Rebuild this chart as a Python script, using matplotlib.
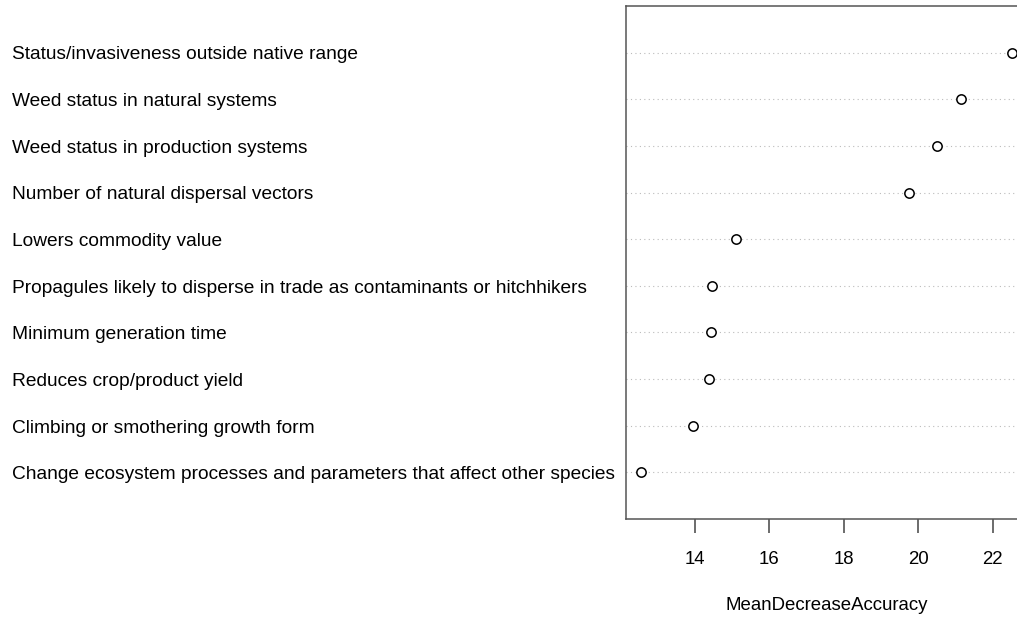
import numpy as np
import matplotlib.pyplot as plt
from matplotlib.transforms import blended_transform_factory

# variables, top to bottom
labels = [
    "Status/invasiveness outside native range",
    "Weed status in natural systems",
    "Weed status in production systems",
    "Number of natural dispersal vectors",
    "Lowers commodity value",
    "Propagules likely to disperse in trade as contaminants or hitchhikers",
    "Minimum generation time",
    "Reduces crop/product yield",
    "Climbing or smothering growth form",
    "Change ecosystem processes and parameters that affect other species",
]
mda = [22.52, 21.14, 20.50, 19.75, 15.10, 14.46, 14.43, 14.38, 13.95, 12.55]
xticks = [14, 16, 18, 20, 22]

plt.rcParams["font.family"] = ["Liberation Sans", "DejaVu Sans"]

W, H = 1017, 619
fig = plt.figure(figsize=(W / 100, H / 100), dpi=100)
# axes box in pixels: left 626, top 6, right 1027 (cut off), bottom 519
ax = fig.add_axes([626 / W, 1 - 519 / H, (1027 - 626) / W, (519 - 6) / H])

n = len(labels)
ypos = np.arange(n, 0, -1)

for y in ypos:
    ax.axhline(y, color="#bbbbbb", lw=0.8, ls=(0, (1, 3)), zorder=1)
ax.scatter(mda, ypos, s=45, facecolors="white", edgecolors="black",
           linewidths=1.1, zorder=3, clip_on=False)

rng = max(mda) - min(mda)
ax.set_xlim(min(mda) - 0.04 * rng, max(mda) + 0.04 * rng)
ax.set_ylim(0, n + 1)

ax.set_yticks([])
ax.set_xticks(xticks)
ax.tick_params(axis="x", direction="out", length=10, width=1.1,
               color="#444444", labelsize=13.4, pad=13)
for s in ax.spines.values():
    s.set_color("#555555")
    s.set_linewidth(1.1)

ax.set_xlabel("MeanDecreaseAccuracy", fontsize=13.4, labelpad=21)

trans = blended_transform_factory(fig.transFigure, ax.transData)
for lab, y in zip(labels, ypos):
    ax.text(12 / W, y - 0.05, lab, transform=trans, ha="left", va="center",
            fontsize=13.75, color="black")

fig.savefig("out.png", dpi=100)
